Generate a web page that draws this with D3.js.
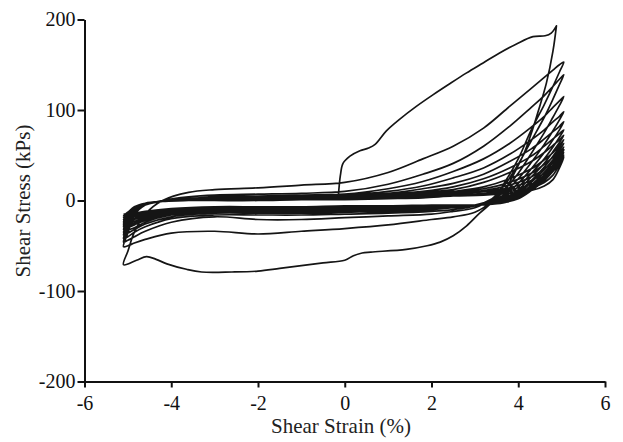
<!DOCTYPE html>
<html>
<head>
<meta charset="utf-8">
<script src="https://cdn.jsdelivr.net/npm/d3@7"></script>
<style>
  body { margin: 0; background: #fff; }
</style>
</head>
<body>
<div id="chartArea"></div>
<script>
// axis ticks
let strainTicks = [-6, -4, -2, 0, 2, 4, 6]
let stressTicks = [-200, -100, 0, 100, 200]

// first cycle
let c1LoadStrain = [-0.15, -0.13, -0.1, -0.04, 0.12, 0.35, 0.55, 0.7, 0.96, 1.27, 1.65, 2.04, 2.42, 2.81, 3.19, 3.57, 3.96, 4.34, 4.62, 4.76, 4.88]
let c1LoadStress = [4, 15, 28, 41, 49, 55, 58, 62, 77, 90, 104, 117, 129, 141, 152, 163, 173, 181, 182, 185, 193]
let c1UnloadStrain = [4.88, 4.8, 4.65, 4.45, 4.3, 4.15, 3.96, 3.73, 3.42, 3.11, 2.81, 2.5, 2.2, 1.9, 1.42, 0.6, 0.4, 0.2, 0, -0.5, -1, -1.5, -2, -2.6, -3.3, -3.65, -4.1, -4.35, -4.57, -4.8, -5.1]
let c1UnloadStress = [193, 165, 130, 97, 74, 54, 35, 15, -1, -14, -28, -39, -46, -50, -54, -57, -58, -61, -66, -69, -72, -75, -78, -79, -79, -76, -70, -65, -62, -66, -71]

// later cycles: stress (kPs) at shared strain stations (%)
let loadStrain = [-5.1, -5.0, -4.85, -4.6, -4.2, -3.6, -3.0, -2.0, -1.0, 0, 1.0, 1.8, 2.5, 3.2, 3.8, 4.3, 4.6, 4.8, 4.95, 5.05]
let loadStress = [
  [-71, -56, -35, -15, 0, 9, 12, 14, 17, 20, 31, 46, 60, 80, 104, 124, 136, 144, 150, 153],
  [-51, -36, -16, -5, 0, 4, 6, 7, 8, 10, 18, 29, 41, 60, 82, 103, 116, 126, 134, 139],
  [-46, -32, -14, -5, -1, 2, 4, 5, 6, 7, 13, 21, 32, 46, 63, 81, 93, 103, 110, 115],
  [-42, -29, -13, -5, -1, 1, 3, 4, 5, 6, 10, 16, 25, 36, 51, 67, 78, 87, 93, 98],
  [-38, -27, -12, -4, -1, 1, 2, 3, 4, 5, 8, 13, 19, 29, 43, 57, 68, 76, 82, 87],
  [-35, -25, -11, -4, -1, 0, 2, 3, 3, 4, 7, 10, 15, 24, 36, 49, 60, 68, 74, 78],
  [-32, -23, -10, -4, -1, 0, 1, 2, 3, 4, 6, 9, 12, 20, 31, 43, 53, 61, 67, 72],
  [-29, -21, -10, -4, -1, 0, 1, 2, 2, 3, 5, 7, 10, 15, 24, 35, 45, 53, 61, 67],
  [-27, -19, -9, -4, -1, 0, 1, 1, 2, 3, 4, 6, 9, 13, 20, 30, 40, 48, 56, 63],
  [-25, -18, -9, -4, -1, 0, 0, 1, 2, 2, 4, 5, 8, 11, 17, 26, 35, 43, 52, 59],
  [-23, -17, -8, -3, -1, 0, 0, 1, 1, 2, 3, 5, 7, 10, 14, 22, 30, 38, 48, 56],
  [-21, -15, -8, -3, -1, 0, 0, 1, 1, 2, 3, 4, 6, 8, 12, 18, 25, 33, 44, 53],
  [-19, -14, -7, -3, -1, 0, 0, 0, 1, 1, 2, 4, 5, 7, 10, 14, 20, 28, 40, 50],
  [-17, -13, -7, -3, -1, 0, 0, 0, 1, 1, 2, 3, 5, 6, 8, 11, 16, 23, 36, 48]
]
let unloadStrain = [5.05, 4.95, 4.8, 4.6, 4.3, 4.0, 3.7, 3.4, 3.0, 2.5, 2.0, 1.0, 0, -1, -2, -3, -4, -4.6, -4.85, -5.0, -5.1]
let unloadStress = [
  [153, 142, 126, 106, 78, 46, 21, 0, -13, -18, -21, -27, -31, -34, -37, -34, -36, -43, -47, -50, -51],
  [139, 128, 112, 92, 66, 40, 18, 2, -8, -12, -15, -17, -19, -21, -21, -18, -24, -34, -40, -44, -46],
  [115, 105, 92, 75, 52, 30, 13, 2, -6, -10, -12, -14, -15, -16, -16, -16, -20, -29, -35, -40, -42],
  [98, 89, 77, 62, 42, 24, 10, 1, -5, -8, -10, -12, -13, -14, -14, -14, -18, -26, -32, -36, -38],
  [87, 78, 67, 53, 35, 19, 7, 0, -5, -7, -9, -11, -12, -13, -13, -13, -16, -24, -30, -33, -35],
  [78, 70, 59, 46, 30, 15, 5, -1, -5, -7, -8, -10, -11, -12, -12, -12, -15, -22, -27, -30, -32],
  [72, 64, 54, 41, 26, 12, 3, -2, -5, -6, -8, -9, -10, -11, -11, -11, -14, -20, -25, -28, -29],
  [67, 59, 49, 37, 22, 10, 2, -2, -5, -6, -7, -9, -10, -10, -10, -10, -13, -19, -23, -26, -27],
  [63, 55, 45, 34, 20, 8, 1, -3, -5, -6, -7, -8, -9, -9, -10, -10, -12, -17, -21, -24, -25],
  [59, 51, 42, 31, 17, 6, 0, -3, -5, -6, -7, -8, -9, -9, -9, -9, -12, -16, -20, -22, -23],
  [56, 48, 39, 28, 15, 5, -1, -3, -5, -6, -6, -7, -8, -8, -8, -9, -11, -15, -18, -20, -21],
  [53, 45, 36, 26, 13, 4, -1, -4, -5, -5, -6, -7, -7, -8, -8, -8, -10, -14, -17, -18, -19],
  [50, 43, 34, 24, 12, 3, -2, -4, -5, -5, -6, -6, -7, -7, -7, -8, -10, -13, -15, -16, -17],
  [48, 41, 32, 22, 11, 2, -2, -4, -5, -5, -5, -6, -6, -7, -7, -7, -9, -12, -14, -15, -15]
]

let width = 623
let height = 442
let serif = "'Liberation Serif', 'Times New Roman', 'DejaVu Serif', serif"

/**
 * Zips a strain list and a stress list into points.
 */
function pairs(strains, stresses) {
  return strains.map((s, i) => [s, stresses[i]])
}

let svg = d3.select('#chartArea').append('svg')
  .attr('width', width)
  .attr('height', height)
  .attr('font-family', serif)

let x = d3.scaleLinear()
  .domain([-6, 6])
  .range([84.5, 605])

let y = d3.scaleLinear()
  .domain([-200, 200])
  .range([381.5, 19.5])

// one continuous record, cycle after cycle
let record = pairs(c1LoadStrain, c1LoadStress).concat(pairs(c1UnloadStrain, c1UnloadStress))
loadStress.forEach((ls, i) => {
  record = record.concat(
    pairs(loadStrain, ls).slice(1),
    pairs(unloadStrain, unloadStress[i]).slice(1)
  )
})

let line = d3.line()
  .x((d) => x(d[0]))
  .y((d) => y(d[1]))
  .curve(d3.curveCatmullRom.alpha(0.5))

svg.append('path')
  .attr('d', line(record))
  .attr('fill', 'none')
  .attr('stroke', '#151515')
  .attr('stroke-width', 1.7)
  .attr('stroke-linejoin', 'round')

// axes
let xAxis = svg.append('g')
  .attr('transform', 'translate(0,' + y(-200) + ')')
  .call(d3.axisBottom(x).tickValues(strainTicks).tickFormat((d) => String(d))
    .tickSize(6).tickSizeOuter(0).tickPadding(8))

let yAxis = svg.append('g')
  .attr('transform', 'translate(' + x(-6) + ',0)')
  .call(d3.axisLeft(y).tickValues(stressTicks).tickFormat((d) => String(d))
    .tickSize(7).tickSizeOuter(0).tickPadding(2))

;[xAxis, yAxis].forEach((g) => {
  g.attr('font-family', serif).attr('font-size', 20)
  g.selectAll('path, line').attr('stroke', '#111').attr('stroke-width', 2)
  g.selectAll('text').attr('fill', '#111')
})

svg.append('text')
  .attr('x', 341)
  .attr('y', 433)
  .attr('text-anchor', 'middle')
  .attr('font-size', 21)
  .attr('fill', '#222')
  .text('Shear Strain (%)')

svg.append('text')
  .attr('transform', 'translate(30,201) rotate(-90)')
  .attr('text-anchor', 'middle')
  .attr('font-size', 21)
  .attr('fill', '#222')
  .text('Shear Stress (kPs)')
</script>
</body>
</html>
